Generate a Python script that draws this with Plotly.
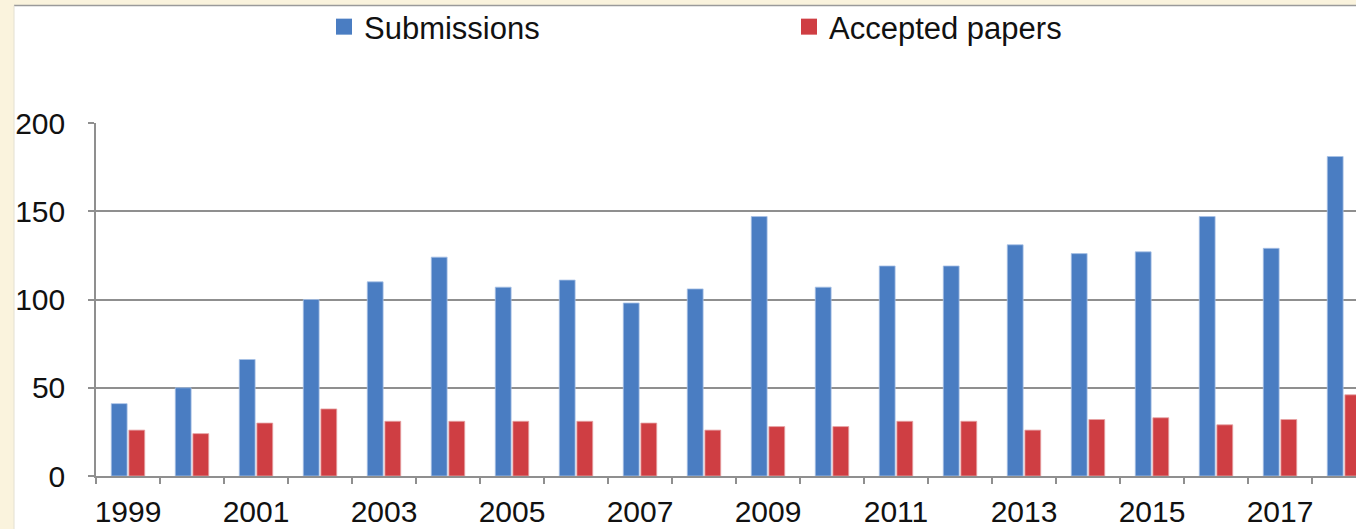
import plotly.graph_objects as go

years = list(range(1999, 2019))
submissions = [41, 50, 66, 100, 110, 124, 107, 111, 98, 106, 147, 107, 119, 119, 131, 126, 127, 147, 129, 181]
accepted = [26, 24, 30, 38, 31, 31, 31, 31, 30, 26, 28, 28, 31, 31, 26, 32, 33, 29, 32, 46]
label_years = [1999, 2001, 2003, 2005, 2007, 2009, 2011, 2013, 2015, 2017]
y_ticks = [0, 50, 100, 150, 200]

BLUE = "#4A7DC2"
RED = "#CF3E43"
GRID = "#8F8F8F"
CREAM = "#FAF3DD"
FONT = "Liberation Sans"

W, H = 1356, 529
L, R, T, B = 96, 0, 123, 53
pw, ph = W - L - R, H - T - B

fig = go.Figure()
fig.add_bar(x=years, y=submissions, name="Submissions", marker_color=BLUE,
            marker_line=dict(color="#A8C2E6", width=0.8), showlegend=False)
fig.add_bar(x=years, y=accepted, name="Accepted papers", marker_color=RED,
            marker_line=dict(color="#E6A3A5", width=0.8), showlegend=False)

# legend entries with bigger square swatches
for name, col in [("Submissions", BLUE), ("Accepted papers", RED)]:
    fig.add_scatter(x=[None], y=[None], mode="markers", name=name,
                    marker=dict(symbol="square", size=20, color=col))

def px_x(p):
    return (p - L) / pw

def px_y(p):
    return 1 - (p - T) / ph

fig.update_layout(
    width=W, height=H,
    margin=dict(l=L, r=R, t=T, b=B, autoexpand=False),
    paper_bgcolor=CREAM, plot_bgcolor="white",
    barmode="group", bargap=0.45, bargroupgap=0.1,
    font=dict(family=FONT, size=30, color="#111111"),
    legend=dict(orientation="h", xref="container", yref="container",
                x=324 / W, y=1 - 27 / H, yanchor="middle", xanchor="left",
                entrywidth=420, font=dict(size=31), bgcolor="rgba(0,0,0,0)",
                itemsizing="trace"),
    shapes=[
        dict(type="rect", xref="paper", yref="paper", layer="below",
             x0=px_x(14), x1=px_x(W + 5), y0=px_y(H + 5), y1=px_y(6),
             fillcolor="white", line=dict(width=0)),
        dict(type="line", xref="paper", yref="paper",
             x0=px_x(14), x1=px_x(W + 5), y0=px_y(5.5), y1=px_y(5.5),
             line=dict(color="#9A9A9A", width=1.5)),
        dict(type="line", xref="paper", yref="paper",
             x0=px_x(14), x1=px_x(14), y0=px_y(H + 5), y1=px_y(5.5),
             line=dict(color="#E4E0D2", width=1)),
    ],
)

fig.update_xaxes(
    range=[1998.5, 1998.5 + pw / 64.0], automargin=False,
    tickvals=label_years, ticktext=[str(y) for y in label_years],
    ticks="", ticklabelstandoff=8,
    showgrid=False, zeroline=False,
    showline=True, linecolor=GRID, linewidth=1.5,
    minor=dict(ticks="outside", ticklen=6, tickcolor=GRID, tickwidth=1.5,
               tick0=1998.5, dtick=1, showgrid=False),
)
fig.update_yaxes(
    range=[0, 200], tickvals=y_ticks, automargin=False,
    ticks="outside", ticklen=6, tickcolor=GRID, tickwidth=1.5,
    ticklabelstandoff=17,
    showgrid=True, gridcolor=GRID, gridwidth=1.5, zeroline=False,
    showline=True, linecolor=GRID, linewidth=1.5,
)

fig.write_html("out.html", config={"displayModeBar": False},
               post_script="document.body.style.margin='0px';")
